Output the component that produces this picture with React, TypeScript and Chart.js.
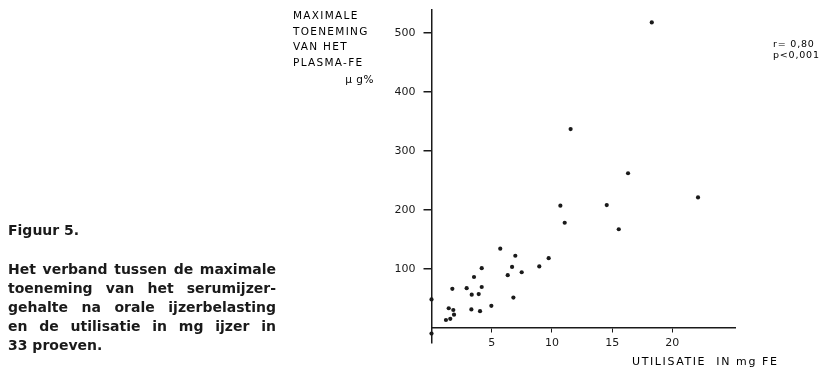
import React, { useEffect, useRef } from "react";
import { Chart, registerables } from "chart.js";

Chart.register(...registerables);

// Utilisatie in mg Fe (x) and maximale toeneming van het plasma-Fe in µg% (y)
const utilisatie = [0, 0, 1.2, 1.56, 1.43, 1.81, 1.87, 1.73, 2.92, 3.34, 3.31, 3.53, 3.92, 4.03, 4.17, 4.17, 4.97, 5.71, 6.33, 6.69, 6.8, 6.96, 7.49, 8.95, 9.73, 10.7, 11.06, 11.55, 14.55, 15.55, 16.32, 18.29, 22.13];
const toeneming = [48, -10, 13, 15, 33, 30, 22, 66, 67, 56, 31, 86, 57, 28, 69, 101, 37, 134, 89, 103, 51, 122, 94, 104, 118, 207, 178, 337, 208, 167, 262, 518, 221];

const xTicks = [5, 10, 15, 20];
const yTicks = [100, 200, 300, 400, 500];

const yTitleLines = ["MAXIMALE", "TOENEMING", "VAN HET", "PLASMA-FE"];
const yTitleUnit = "µ g%";
const xTitle = "UTILISATIE  IN mg FE";
const statLines = ["r= 0,80", "p<0,001"];
const figTitle = "Figuur 5.";
const captionLines = [
  "Het verband  tussen de maximale",
  "toeneming van het serumijzer-",
  "gehalte na orale ijzerbelasting",
  "en de utilisatie in mg ijzer in",
  "33 proeven.",
];

const INK = "#1a1a1a";

export default function App() {
  const ref = useRef<HTMLCanvasElement | null>(null);

  useEffect(() => {
    if (!ref.current) return;
    const chart = new Chart(ref.current, {
      type: "scatter",
      data: {
        datasets: [
          {
            data: utilisatie.map((x, i) => ({ x, y: toeneming[i] })),
            backgroundColor: INK,
            borderColor: INK,
            pointRadius: 2.1,
            pointHoverRadius: 2.1,
            borderWidth: 0,
            clip: false as any,
          },
        ],
      },
      options: {
        animation: false,
        responsive: false,
        events: [],
        layout: { padding: { left: 381.5, right: 91, top: 10, bottom: 25 } },
        plugins: { legend: { display: false }, tooltip: { enabled: false } },
        scales: {
          x: {
            type: "linear",
            min: 0,
            max: 25.2,
            position: { y: 0 } as any,
            afterBuildTicks: (s: any) => {
              s.ticks = xTicks.map((v) => ({ value: v }));
            },
            afterFit: (s: any) => {
              s.height = 20;
              s.paddingLeft = 0;
              s.paddingRight = 0;
            },
            grid: { drawOnChartArea: false, tickLength: 4, color: INK, lineWidth: 1 },
            border: { color: INK, width: 1.5 },
            ticks: {
              font: { family: "DejaVu Sans", size: 11 },
              color: INK,
              padding: 5,
              maxRotation: 0,
              autoSkip: false,
            },
          },
          y: {
            type: "linear",
            min: -26,
            max: 539,
            afterBuildTicks: (s: any) => {
              s.ticks = yTicks.map((v) => ({ value: v }));
            },
            afterFit: (s: any) => {
              s.width = 50;
              s.paddingTop = 0;
              s.paddingBottom = 0;
            },
            grid: { drawOnChartArea: false, tickLength: 8, color: INK, lineWidth: 1.5 },
            border: { color: INK, width: 1.5 },
            ticks: {
              font: { family: "DejaVu Sans", size: 11 },
              color: INK,
              padding: 8,
              autoSkip: false,
            },
          },
        },
      },
    });
    return () => chart.destroy();
  }, []);

  const small: React.CSSProperties = {
    position: "absolute",
    fontFamily: "DejaVu Sans",
    fontSize: 10.5,
    letterSpacing: "1.3px",
    lineHeight: "12px",
    color: "#000",
    whiteSpace: "pre",
  };
  const captionFont: React.CSSProperties = {
    fontFamily: "DejaVu Sans",
    fontWeight: 700,
    fontSize: 14,
    color: INK,
    lineHeight: "19px",
    whiteSpace: "nowrap",
  };
  const yTitleCenters = [15, 30.5, 46, 61.5];

  return (
    <div style={{ position: "fixed", left: 0, top: 0, width: 826, height: 368, background: "#fff", overflow: "hidden" }}>
      <canvas ref={ref} width={826} height={368} style={{ display: "block", position: "absolute", left: 0, top: 0 }} />
      {yTitleLines.map((t, i) => (
        <div key={t} style={{ ...small, left: 293, top: yTitleCenters[i] - 6 }}>{t}</div>
      ))}
      <div style={{ ...small, right: 826 - 374, top: 79 - 6, letterSpacing: "0.5px" }}>{yTitleUnit}</div>
      <div style={{ ...small, fontSize: 11, letterSpacing: "1.6px", left: 632, top: 362 - 6 }}>{xTitle}</div>
      {statLines.map((t, i) => (
        <div key={t} style={{ ...small, fontSize: 9.5, letterSpacing: "0.8px", left: 773, top: 44 + i * 11 - 6 }}>{t}</div>
      ))}
      <div style={{ ...captionFont, position: "absolute", left: 8, top: 230 - 9.5 }}>{figTitle}</div>
      <div style={{ position: "absolute", left: 8, top: 269 - 9.5, width: 268 }}>
        {captionLines.map((t, i) => (
          <div
            key={i}
            style={{
              ...captionFont,
              whiteSpace: "normal",
              textAlign: i < captionLines.length - 1 ? "justify" : "left",
              textAlignLast: i < captionLines.length - 1 ? "justify" : "left",
            } as React.CSSProperties}
          >
            {t}
          </div>
        ))}
      </div>
    </div>
  );
}
